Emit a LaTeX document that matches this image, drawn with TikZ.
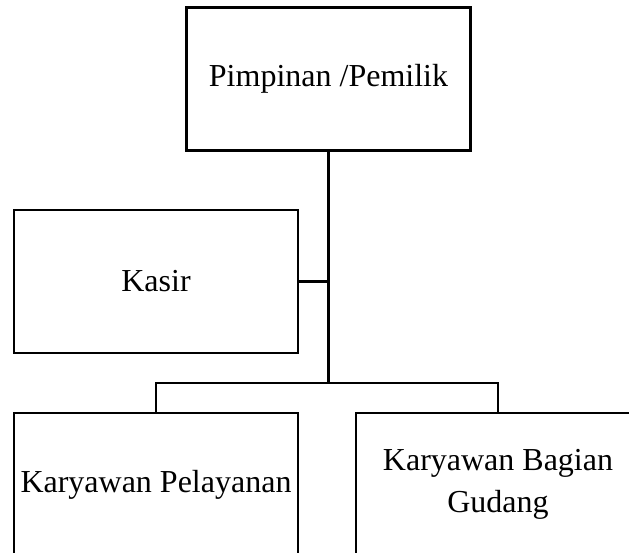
\documentclass[tikz,border=0pt]{standalone}
\usepackage{fontspec}
\setmainfont{Liberation Serif}
\usepackage{tikz}
\usetikzlibrary{positioning}

\tikzset{jabatan/.style={draw, line width=2.4pt, align=center, minimum width=284pt, minimum height=143pt, inner sep=2pt, font=\fontsize{32}{42}\selectfont},
	garis/.style={line width=2.4pt}}

\begin{document}
\begin{tikzpicture}[x=1pt, y=-1pt]
	\useasboundingbox (0,0) rectangle (629,553);
	\clip (0,0) rectangle (629,553);
	\node [jabatan] (pimpinan) at (328.5,79) {Pimpinan /Pemilik};
	\node [jabatan] (kasir) at (156,281.5) {Kasir};
	\node [jabatan] (pelayanan) at (156,484.5) {Karyawan Pelayanan};
	\node [jabatan, minimum width=310pt, xshift=13pt] (gudang) at (498,484.5) {};
	\node [font=\fontsize{32}{42}\selectfont, align=center] (gudangteks) at (498,484.5) {Karyawan Bagian\\Gudang};
	\coordinate (cabang) at (pimpinan.south |- 0,383);
	\draw [garis] (pimpinan.south) -- (cabang);
	\draw [garis] (kasir.east) -- (kasir.east -| pimpinan.south);
	\draw [garis] (pelayanan.north) |- (cabang) -| (gudangteks.north |- gudang.north);
\end{tikzpicture}
\end{document}
